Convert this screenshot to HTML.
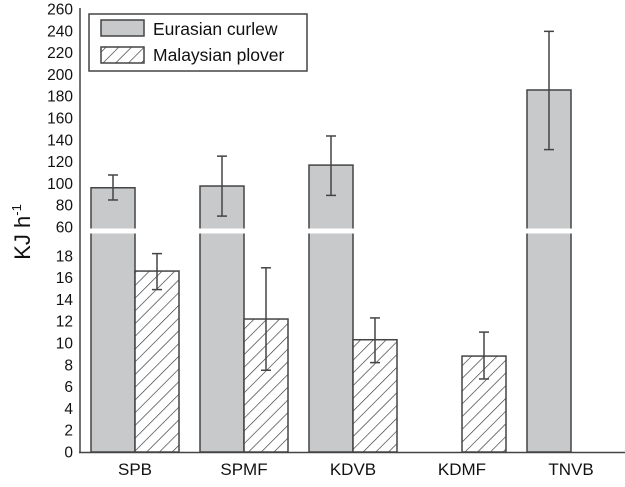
<!DOCTYPE html>
<html><head><meta charset="utf-8"><style>
body{margin:0;background:#fff}
svg text{font-family:"Liberation Sans",Arial,sans-serif;fill:#111}
</style></head><body>
<svg id="chart" width="625" height="482" viewBox="0 0 625 482" xmlns="http://www.w3.org/2000/svg">
<defs>
<pattern id="hatch" patternUnits="userSpaceOnUse" width="9" height="9" patternTransform="rotate(45)">
<rect width="9" height="9" fill="#fff"/><line x1="0" y1="0" x2="0" y2="9" stroke="#333" stroke-width="1.3"/>
</pattern>
</defs>
<g id="g"></g>
</svg>
<script>
const categories=["SPB","SPMF","KDVB","KDMF","TNVB"];
const curlew=[96,97.6,116.8,null,185.7];
const curlewHi=[107.7,125,143.5,null,239.5];
const curlewLo=[84.8,70,89,null,131];
const plover=[16.6,12.2,10.3,8.8,null];
const ploverHi=[18.2,16.9,12.3,11,null];
const ploverLo=[14.9,7.5,8.2,6.7,null];
const upperTicks=[60,80,100,120,140,160,180,200,220,240,260];
const lowerTicks=[0,2,4,6,8,10,12,14,16,18];
const NS="http://www.w3.org/2000/svg";
const g=document.getElementById('g');
function yv(v){return v>=60?227-(v-60)*1.09:452-v*10.9;}
function xg(i){return 91+i*109;}
const BW=44;
function mk(t,a,p){const e=document.createElementNS(NS,t);for(const k in a)e.setAttribute(k,a[k]);(p||g).appendChild(e);return e;}
function errbar(x,hi,lo){
 const l=mk('line',{x1:x,x2:x,y1:yv(hi),y2:yv(lo),stroke:'#444','stroke-width':1.5});
 
 
 mk('line',{x1:x-5,x2:x+5,y1:yv(hi),y2:yv(hi),stroke:'#444','stroke-width':1.5});
 mk('line',{x1:x-5,x2:x+5,y1:yv(lo),y2:yv(lo),stroke:'#444','stroke-width':1.5});
}
categories.forEach((c,i)=>{
 const x0=xg(i);
 if(curlew[i]!=null){
  const r=mk('rect',{x:x0,y:yv(curlew[i]),width:BW,height:452-yv(curlew[i]),fill:'#c8c9cb',stroke:'#444','stroke-width':1.5});
  
  
  if(curlew[i]>=60){mk('rect',{x:x0-2,y:228.5,width:BW+4,height:5,fill:'#fff'});}
  errbar(x0+BW/2,curlewHi[i],curlewLo[i]);
 }
 if(plover[i]!=null){
  const r=mk('rect',{x:x0+BW,y:yv(plover[i]),width:BW,height:452-yv(plover[i]),fill:'url(#hatch)',stroke:'#444','stroke-width':1.5});
  
  
  errbar(x0+BW*1.5,ploverHi[i],ploverLo[i]);
 }
 const t=mk('text',{x:x0+BW,y:475,'text-anchor':'middle','font-size':17});
 t.textContent=c;
 
 
});
upperTicks.concat(lowerTicks).forEach(v=>{
 const t=mk('text',{x:73,y:yv(v)+5.5,'text-anchor':'end','font-size':15.5});
 t.textContent=v;
 
 
});
const ax=mk('line',{x1:80,x2:80,y1:8,y2:453,stroke:'#444','stroke-width':1.5});


const bx=mk('line',{x1:79,x2:625,y1:452.5,y2:452.5,stroke:'#444','stroke-width':1.5});


const yt=mk('text',{x:0,y:0,'font-size':22,transform:'translate(30,232) rotate(-90)','text-anchor':'middle'});
yt.innerHTML='KJ h<tspan dy="-9" font-size="13">-1</tspan>';


const lg=mk('g',{});


mk('rect',{x:89,y:14,width:218,height:57,fill:'#fff',stroke:'#444','stroke-width':1.5},lg);
mk('rect',{x:101,y:20,width:43,height:16,fill:'#c8c9cb',stroke:'#444','stroke-width':1.5},lg);
mk('rect',{x:101,y:47,width:43,height:16,fill:'url(#hatch)',stroke:'#444','stroke-width':1.5},lg);
const l1=mk('text',{x:153,y:35,'font-size':17.5},lg);l1.textContent='Eurasian curlew';


const l2=mk('text',{x:153,y:61,'font-size':17.5},lg);l2.textContent='Malaysian plover';


</script>
</body></html>
